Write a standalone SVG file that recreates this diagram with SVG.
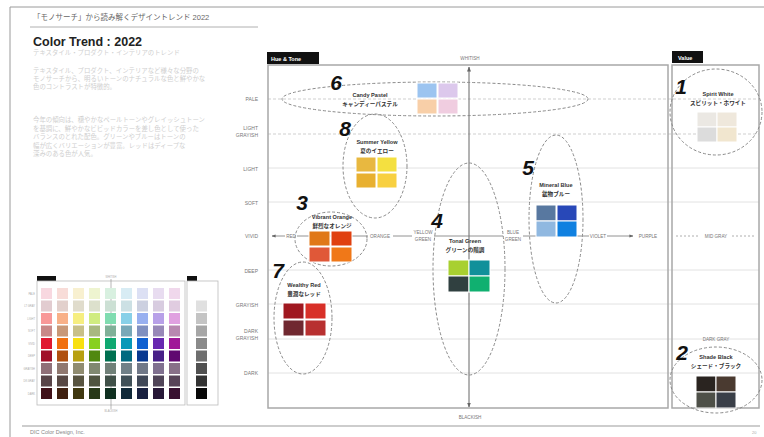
<svg xmlns="http://www.w3.org/2000/svg" width="764" height="437" viewBox="0 0 764 437">
<defs>
<style>
text{font-family:"Liberation Sans","Noto Sans CJK JP",sans-serif}
.frame{fill:none;stroke:#a8a8a8;stroke-width:1.5}
.grid{stroke:#e2e2e2;stroke-width:1}
.gridd{stroke:#cfcfcf;stroke-width:1;stroke-dasharray:3 2}
.ell{fill:none;stroke:#8a8a8a;stroke-width:1;stroke-dasharray:3 2}
.row{font-size:5px;fill:#777;text-anchor:end}
.hue{font-size:4.6px;fill:#777;text-anchor:middle}
.num{font-size:21px;font-weight:bold;font-style:italic;fill:#111;text-anchor:middle}
.en{font-size:5.6px;font-weight:bold;fill:#333;text-anchor:middle}
.jp{font-size:5.6px;font-weight:bold;fill:#333;text-anchor:middle}
.para{font-size:6.4px;fill:#cfcfcf}
.tag{fill:#111}
.tagt{font-size:5.5px;font-weight:bold;fill:#fff}
.sw{stroke:#fff;stroke-width:1}
.mini text{font-size:2.6px;fill:#aaa}
</style>
<marker id="arr" viewBox="0 0 10 10" refX="9" refY="5" markerWidth="5" markerHeight="5" orient="auto-start-reverse"><path d="M0,1 L10,5 L0,9 z" fill="#666"/></marker>
</defs>
<rect width="764" height="437" fill="#fff"/>
<!-- page frame -->
<g id="page">
<line x1="10" y1="7" x2="764" y2="7" stroke="#9a9a9a" stroke-width="1"/>
<line x1="10" y1="7" x2="10" y2="437" stroke="#9a9a9a" stroke-width="1"/>
<text x="33" y="20" font-size="7.5" fill="#666">「モノサーチ」から読み解くデザイントレンド 2022</text>
<line x1="30" y1="27" x2="258" y2="27" stroke="#b0b0b0" stroke-width="1"/>
<text x="33" y="46" font-size="12.5" font-weight="bold" fill="#222">Color Trend : 2022</text>
<text class="para" x="33" y="55">テキスタイル・プロダクト・インテリアのトレンド</text>
<text class="para" x="33" y="73">テキスタイル、プロダクト、インテリアなど様々な分野の</text>
<text class="para" x="33" y="81">モノサーチから、明るいトーンのナチュラルな色と鮮やかな</text>
<text class="para" x="33" y="89">色のコントラストが特徴的。</text>
<text class="para" x="33" y="122">今年の傾向は、穏やかなペールトーンやグレイッシュトーン</text>
<text class="para" x="33" y="131">を基調に、鮮やかなビビッドカラーを差し色として使った</text>
<text class="para" x="33" y="139">バランスのとれた配色。グリーンやブルーはトーンの</text>
<text class="para" x="33" y="148">幅が広くバリエーションが豊富。レッドはディープな</text>
<text class="para" x="33" y="156">深みのある色が人気。</text>
<line x1="22" y1="426" x2="760" y2="426" stroke="#bdbdbd" stroke-width="1.5"/>
<text x="30" y="434" font-size="5.5" fill="#888">DIC Color Design, Inc.</text>
<text x="752" y="434" font-size="4" fill="#aaa">20</text>
</g>
<!-- mini chart -->
<g id="mini-chart" class="mini">
<rect x="37" y="276" width="19" height="5" fill="#111"/>
<rect x="187" y="276" width="10" height="5" fill="#111"/>
<rect x="37" y="281" width="148" height="124" fill="none" stroke="#bbb" stroke-width="0.8"/>
<rect x="187" y="281" width="31" height="124" fill="none" stroke="#bbb" stroke-width="0.8"/>
<line x1="111" y1="279" x2="111" y2="409" stroke="#888" stroke-width="0.6"/>
<text x="111" y="278" text-anchor="middle">WHITISH</text>
<text x="111" y="412" text-anchor="middle">BLACKISH</text>
<g stroke="none">
<rect x="41" y="288" width="11" height="11" fill="#f8d8e0"/><rect x="57" y="288" width="11" height="11" fill="#f8dcd8"/><rect x="73" y="288" width="11" height="11" fill="#f8f0d0"/><rect x="89" y="288" width="11" height="11" fill="#eef4d0"/><rect x="105" y="288" width="11" height="11" fill="#d8f0e0"/><rect x="121" y="288" width="11" height="11" fill="#d8ecf4"/><rect x="137" y="288" width="11" height="11" fill="#dce0f4"/><rect x="153" y="288" width="11" height="11" fill="#e8dcf0"/><rect x="169" y="288" width="11" height="11" fill="#f0d8ec"/>
<rect x="41" y="300.5" width="11" height="11" fill="#e2ccd0"/><rect x="57" y="300.5" width="11" height="11" fill="#e2d0cc"/><rect x="73" y="300.5" width="11" height="11" fill="#e0dccc"/><rect x="89" y="300.5" width="11" height="11" fill="#dce0cc"/><rect x="105" y="300.5" width="11" height="11" fill="#cce0d4"/><rect x="121" y="300.5" width="11" height="11" fill="#cce0e4"/><rect x="137" y="300.5" width="11" height="11" fill="#ccd0e0"/><rect x="153" y="300.5" width="11" height="11" fill="#d8cce0"/><rect x="169" y="300.5" width="11" height="11" fill="#e0cce0"/>
<rect x="41" y="313" width="11" height="11" fill="#f89898"/><rect x="57" y="313" width="11" height="11" fill="#f8b088"/><rect x="73" y="313" width="11" height="11" fill="#f6ee80"/><rect x="89" y="313" width="11" height="11" fill="#d0ec80"/><rect x="105" y="313" width="11" height="11" fill="#80dcb0"/><rect x="121" y="313" width="11" height="11" fill="#88d0e8"/><rect x="137" y="313" width="11" height="11" fill="#98b0f0"/><rect x="153" y="313" width="11" height="11" fill="#b8a0e8"/><rect x="169" y="313" width="11" height="11" fill="#e0a0e0"/>
<rect x="41" y="325.5" width="11" height="11" fill="#c88888"/><rect x="57" y="325.5" width="11" height="11" fill="#c89878"/><rect x="73" y="325.5" width="11" height="11" fill="#c8c088"/><rect x="89" y="325.5" width="11" height="11" fill="#a8b880"/><rect x="105" y="325.5" width="11" height="11" fill="#80b098"/><rect x="121" y="325.5" width="11" height="11" fill="#78a8b8"/><rect x="137" y="325.5" width="11" height="11" fill="#8090c0"/><rect x="153" y="325.5" width="11" height="11" fill="#9888b8"/><rect x="169" y="325.5" width="11" height="11" fill="#b888b0"/>
<rect x="41" y="338" width="11" height="11" fill="#e01830"/><rect x="57" y="338" width="11" height="11" fill="#f07010"/><rect x="73" y="338" width="11" height="11" fill="#f8e010"/><rect x="89" y="338" width="11" height="11" fill="#88d020"/><rect x="105" y="338" width="11" height="11" fill="#10a870"/><rect x="121" y="338" width="11" height="11" fill="#0898b8"/><rect x="137" y="338" width="11" height="11" fill="#1060d0"/><rect x="153" y="338" width="11" height="11" fill="#6828b0"/><rect x="169" y="338" width="11" height="11" fill="#a01898"/>
<rect x="41" y="350.5" width="11" height="11" fill="#a01028"/><rect x="57" y="350.5" width="11" height="11" fill="#b05010"/><rect x="73" y="350.5" width="11" height="11" fill="#b8a010"/><rect x="89" y="350.5" width="11" height="11" fill="#508810"/><rect x="105" y="350.5" width="11" height="11" fill="#007050"/><rect x="121" y="350.5" width="11" height="11" fill="#006880"/><rect x="137" y="350.5" width="11" height="11" fill="#083890"/><rect x="153" y="350.5" width="11" height="11" fill="#482088"/><rect x="169" y="350.5" width="11" height="11" fill="#600870"/>
<rect x="41" y="363" width="11" height="11" fill="#907078"/><rect x="57" y="363" width="11" height="11" fill="#907870"/><rect x="73" y="363" width="11" height="11" fill="#908c70"/><rect x="89" y="363" width="11" height="11" fill="#808870"/><rect x="105" y="363" width="11" height="11" fill="#708078"/><rect x="121" y="363" width="11" height="11" fill="#708088"/><rect x="137" y="363" width="11" height="11" fill="#707888"/><rect x="153" y="363" width="11" height="11" fill="#807090"/><rect x="169" y="363" width="11" height="11" fill="#887088"/>
<rect x="41" y="375.5" width="11" height="11" fill="#584448"/><rect x="57" y="375.5" width="11" height="11" fill="#584844"/><rect x="73" y="375.5" width="11" height="11" fill="#585440"/><rect x="89" y="375.5" width="11" height="11" fill="#505440"/><rect x="105" y="375.5" width="11" height="11" fill="#405048"/><rect x="121" y="375.5" width="11" height="11" fill="#405058"/><rect x="137" y="375.5" width="11" height="11" fill="#404858"/><rect x="153" y="375.5" width="11" height="11" fill="#504458"/><rect x="169" y="375.5" width="11" height="11" fill="#584458"/>
<rect x="41" y="388" width="11" height="11" fill="#401018"/><rect x="57" y="388" width="11" height="11" fill="#402010"/><rect x="73" y="388" width="11" height="11" fill="#403810"/><rect x="89" y="388" width="11" height="11" fill="#283818"/><rect x="105" y="388" width="11" height="11" fill="#103020"/><rect x="121" y="388" width="11" height="11" fill="#102838"/><rect x="137" y="388" width="11" height="11" fill="#182040"/><rect x="153" y="388" width="11" height="11" fill="#281838"/><rect x="169" y="388" width="11" height="11" fill="#381030"/>
<rect x="196" y="300.5" width="11" height="11" fill="#e0e0e0"/><rect x="196" y="313" width="11" height="11" fill="#c4c4c4"/><rect x="196" y="325.5" width="11" height="11" fill="#a6a6a6"/><rect x="196" y="338" width="11" height="11" fill="#8a8a8a"/><rect x="196" y="350.5" width="11" height="11" fill="#6e6e6e"/><rect x="196" y="363" width="11" height="11" fill="#505050"/><rect x="196" y="375.5" width="11" height="11" fill="#333"/><rect x="196" y="388" width="11" height="11" fill="#080808"/>
</g>
<text x="35" y="295" text-anchor="end">PALE</text>
<text x="35" y="307" text-anchor="end">LT GRAY</text>
<text x="35" y="320" text-anchor="end">LIGHT</text>
<text x="35" y="332" text-anchor="end">SOFT</text>
<text x="35" y="345" text-anchor="end">VIVID</text>
<text x="35" y="357" text-anchor="end">DEEP</text>
<text x="35" y="370" text-anchor="end">GRAYISH</text>
<text x="35" y="382" text-anchor="end">DK GRAY</text>
<text x="35" y="395" text-anchor="end">DARK</text>
</g>
<!-- main chart frame -->
<g id="chart-frame">
<rect class="tag" x="267" y="52" width="52" height="12"/>
<text class="tagt" x="271" y="60.5">Hue &amp; Tone</text>
<rect class="tag" x="672" y="51" width="31" height="12"/>
<text class="tagt" x="678" y="59.5">Value</text>
<line class="gridd" x1="268" y1="99" x2="759" y2="99"/>
<line class="gridd" x1="268" y1="134" x2="759" y2="134"/>
<line class="grid" x1="268" y1="168" x2="759" y2="168"/>
<line class="grid" x1="268" y1="202" x2="759" y2="202"/>
<line class="grid" x1="268" y1="270" x2="759" y2="270"/>
<line class="grid" x1="268" y1="304" x2="759" y2="304"/>
<line class="grid" x1="268" y1="339" x2="759" y2="339"/>
<line class="grid" x1="268" y1="373" x2="759" y2="373"/>
<rect class="frame" x="268" y="65" width="400" height="343"/>
<rect class="frame" x="672" y="65" width="87" height="343"/>
<text class="row" x="258" y="101">PALE</text>
<text class="row" x="258" y="130">LIGHT</text>
<text class="row" x="258" y="137">GRAYISH</text>
<text class="row" x="258" y="171">LIGHT</text>
<text class="row" x="258" y="205">SOFT</text>
<text class="row" x="258" y="238">VIVID</text>
<text class="row" x="258" y="273">DEEP</text>
<text class="row" x="258" y="307">GRAYISH</text>
<text class="row" x="258" y="333">DARK</text>
<text class="row" x="258" y="340">GRAYISH</text>
<text class="row" x="258" y="375">DARK</text>
<text class="hue" x="470" y="60" font-size="5px">WHITISH</text>
<text class="hue" x="470" y="419" font-size="5px">BLACKISH</text>
</g>
<!-- axes / connectors -->
<g id="connectors">
<line x1="469" y1="407" x2="469" y2="67" stroke="#666" stroke-width="1" marker-end="url(#arr)" marker-start="url(#arr)"/>
<line x1="272" y1="236" x2="285" y2="236" stroke="#777" stroke-width="0.8" marker-start="url(#arr)"/>
<line x1="297" y1="236" x2="368" y2="236" stroke="#777" stroke-width="0.8"/>
<line x1="393" y1="236" x2="412" y2="236" stroke="#777" stroke-width="0.8"/>
<line x1="434" y1="236" x2="503" y2="236" stroke="#777" stroke-width="0.8"/>
<line x1="523" y1="236" x2="589" y2="236" stroke="#777" stroke-width="0.8"/>
<line x1="607" y1="236" x2="633" y2="236" stroke="#777" stroke-width="0.8" marker-end="url(#arr)"/>
<line x1="676" y1="236" x2="700" y2="236" stroke="#999" stroke-width="0.8" stroke-dasharray="2 2"/>
<line x1="732" y1="236" x2="756" y2="236" stroke="#999" stroke-width="0.8" stroke-dasharray="2 2"/>
<text class="hue" x="291" y="238">RED</text>
<text class="hue" x="380" y="238">ORANGE</text>
<text class="hue" x="423" y="234">YELLOW</text>
<text class="hue" x="423" y="241">GREEN</text>
<text class="hue" x="513" y="234">BLUE</text>
<text class="hue" x="513" y="241">GREEN</text>
<text class="hue" x="598" y="238">VIOLET</text>
<text class="hue" x="648" y="238">PURPLE</text>
<text class="hue" x="716" y="238">MID GRAY</text>
<text class="hue" x="716" y="341">DARK GRAY</text>
</g>
<!-- 6 Candy Pastel -->
<g id="candy-pastel">
<ellipse class="ell" cx="435" cy="99" rx="153" ry="17"/>
<text class="num" x="336" y="90">6</text>
<text class="en" x="370" y="97">Candy Pastel</text>
<text class="jp" x="370" y="106">キャンディーパステル</text>
<rect class="sw" x="417" y="83" width="20" height="15" fill="#9cc4f0"/>
<rect class="sw" x="438" y="83" width="20" height="15" fill="#dcc8ec"/>
<rect class="sw" x="417" y="99" width="20" height="15" fill="#f8cfa8"/>
<rect class="sw" x="438" y="99" width="20" height="15" fill="#f0cde0"/>
</g>
<!-- 8 Summer Yellow -->
<g id="summer-yellow">
<ellipse class="ell" cx="375" cy="166" rx="32" ry="52"/>
<text class="num" x="345" y="136">8</text>
<text class="en" x="377" y="144">Summer Yellow</text>
<text class="jp" x="377" y="153">夏のイエロー</text>
<rect class="sw" x="356" y="157" width="20" height="15" fill="#e8b840"/>
<rect class="sw" x="377" y="157" width="20" height="15" fill="#f4e040"/>
<rect class="sw" x="356" y="173" width="20" height="15" fill="#e8b030"/>
<rect class="sw" x="377" y="173" width="20" height="15" fill="#f8d040"/>
</g>
<!-- 3 Vibrant Orange -->
<g id="vibrant-orange">
<ellipse class="ell" cx="331" cy="239" rx="36" ry="27"/>
<text class="num" x="302" y="210">3</text>
<text class="en" x="332" y="219">Vibrant Orange</text>
<text class="jp" x="332" y="228">鮮烈なオレンジ</text>
<rect class="sw" x="309" y="231" width="21" height="15" fill="#e07818"/>
<rect class="sw" x="331" y="231" width="21" height="15" fill="#e04010"/>
<rect class="sw" x="309" y="247" width="21" height="15" fill="#e05838"/>
<rect class="sw" x="331" y="247" width="21" height="15" fill="#f07818"/>
</g>
<!-- 7 Wealthy Red -->
<g id="wealthy-red">
<ellipse class="ell" cx="303" cy="318" rx="29" ry="56"/>
<text class="num" x="278" y="278">7</text>
<text class="en" x="304" y="287">Wealthy Red</text>
<text class="jp" x="304" y="296">豊潤なレッド</text>
<rect class="sw" x="283" y="303" width="21" height="16" fill="#a01820"/>
<rect class="sw" x="305" y="303" width="21" height="16" fill="#d83028"/>
<rect class="sw" x="283" y="320" width="21" height="16" fill="#702830"/>
<rect class="sw" x="305" y="320" width="21" height="16" fill="#b83030"/>
</g>
<!-- 4 Tonal Green -->
<g id="tonal-green">
<ellipse class="ell" cx="469" cy="269" rx="36" ry="106"/>
<text class="num" x="437" y="228">4</text>
<text class="en" x="465" y="243">Tonal Green</text>
<text class="jp" x="465" y="252">グリーンの階調</text>
<rect class="sw" x="448" y="260" width="21" height="16" fill="#a8d030"/>
<rect class="sw" x="469" y="260" width="21" height="16" fill="#10909a"/>
<rect class="sw" x="448" y="276" width="21" height="16" fill="#304040"/>
<rect class="sw" x="469" y="276" width="21" height="16" fill="#10b070"/>
</g>
<!-- 5 Mineral Blue -->
<g id="mineral-blue">
<ellipse class="ell" cx="556" cy="219" rx="27" ry="84"/>
<text class="num" x="528" y="175">5</text>
<text class="en" x="556" y="187">Mineral Blue</text>
<text class="jp" x="556" y="196">鉱物ブルー</text>
<rect class="sw" x="536" y="205" width="20" height="16" fill="#5878a0"/>
<rect class="sw" x="557" y="205" width="20" height="16" fill="#2848b8"/>
<rect class="sw" x="536" y="221" width="20" height="16" fill="#90b8e0"/>
<rect class="sw" x="557" y="221" width="20" height="16" fill="#1080e0"/>
</g>
<!-- 1 Spirit White -->
<g id="spirit-white">
<ellipse class="ell" cx="716" cy="112" rx="46" ry="43"/>
<text class="num" x="681" y="94">1</text>
<text class="en" x="718" y="96">Spirit White</text>
<text class="jp" x="718" y="105">スピリット・ホワイト</text>
<rect class="sw" x="697" y="112" width="20" height="15" fill="#ebe8e3"/>
<rect class="sw" x="717" y="112" width="20" height="15" fill="#efe8dc"/>
<rect class="sw" x="697" y="127" width="20" height="15" fill="#dcdcdc"/>
<rect class="sw" x="717" y="127" width="20" height="15" fill="#f1e6cf"/>
</g>
<!-- 2 Shade Black -->
<g id="shade-black">
<ellipse class="ell" cx="716" cy="380" rx="46" ry="33"/>
<text class="num" x="682" y="360">2</text>
<text class="en" x="716" y="359">Shade Black</text>
<text class="jp" x="716" y="368">シェード・ブラック</text>
<rect class="sw" x="696" y="376" width="20" height="16" fill="#2a2420"/>
<rect class="sw" x="716" y="376" width="20" height="16" fill="#4a3a30"/>
<rect class="sw" x="696" y="392" width="20" height="16" fill="#4e5048"/>
<rect class="sw" x="716" y="392" width="20" height="16" fill="#3a3f48"/>
</g>
</svg>
